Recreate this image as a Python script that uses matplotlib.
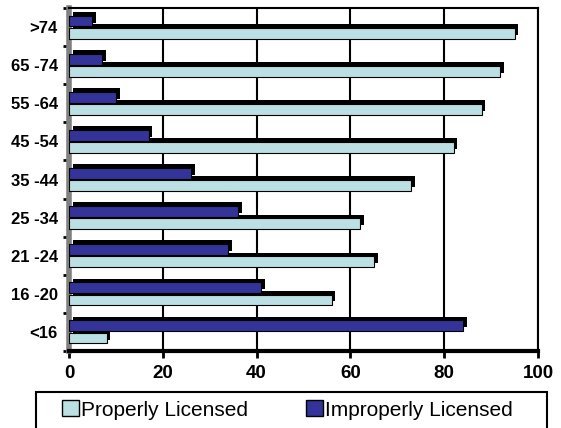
import numpy as np
import matplotlib.pyplot as plt
from matplotlib.patches import Patch, Rectangle

# ====== Data ======
categories = ["<16", "16 -20", "21 -24", "25 -34", "35 -44", "45 -54", "55 -64", "65 -74", ">74"]
properly = [8, 56, 65, 62, 73, 82, 88, 92, 95]
improperly = [84, 41, 34, 36, 26, 17, 10, 7, 5]
x_ticks = [0, 20, 40, 60, 80, 100]
# ==================

LIGHT = "#BBE0E3"
DARK = "#333399"
bar_h = 0.28
dx, dy = 0.8, 0.1   # fake 3D depth

plt.rcParams['font.family'] = ['Liberation Sans', 'DejaVu Sans']

fig = plt.figure(figsize=(5.61, 4.28), dpi=100)
ax = fig.add_axes([0.123, 0.180, 0.836, 0.801])

y = np.arange(len(categories))
y_prop = y - bar_h / 2 - 0.02
y_imp = y + bar_h / 2 + 0.02

# shadows (3D depth)
ax.barh(y_prop + dy, properly, height=bar_h, left=dx, color="black", zorder=3)
ax.barh(y_imp + dy, improperly, height=bar_h, left=dx, color="black", zorder=3)
# front faces
ax.barh(y_prop, properly, height=bar_h, color=LIGHT, edgecolor="black", lw=0.8, zorder=4)
ax.barh(y_imp, improperly, height=bar_h, color=DARK, edgecolor="black", lw=0.8, zorder=4)

ax.set_xlim(0, 100)
ax.set_ylim(-0.5, len(categories) - 0.5)
ax.set_xticks(x_ticks)
ax.set_xticklabels([str(t) for t in x_ticks], fontsize=13.5, fontweight="bold")
ax.set_yticks(y)
ax.set_yticklabels(categories, fontsize=12, fontweight="bold")
ax.tick_params(axis="y", length=0, pad=8)
ax.set_yticks(np.arange(len(categories) + 1) - 0.5, minor=True)
ax.tick_params(axis="y", which="minor", length=4, width=2, color="black")
ax.tick_params(axis="x", length=5, width=2, pad=5)

ax.grid(axis="x", color="black", lw=1.5, zorder=0)
for side in ["top", "right"]:
    ax.spines[side].set_linewidth(1.5)
ax.spines["bottom"].set_linewidth(3)
ax.spines["left"].set_linewidth(4)
ax.spines["left"].set_color("#808080")

# legend box (runs off the bottom edge like the original)
fig.patches.append(Rectangle((36 / 561, -0.05), 511 / 561, 1 - 392 / 428 + 0.05,
                             transform=fig.transFigure, fill=False, lw=1.5,
                             edgecolor="black"))
handles = [Patch(facecolor=LIGHT, edgecolor="black", label="Properly Licensed"),
           Patch(facecolor=DARK, edgecolor="black", label="Improperly Licensed")]
fig.legend(handles=handles, loc="center left", bbox_to_anchor=(62 / 561, 1 - 410 / 428),
           ncol=2, fontsize=15, frameon=False, borderpad=0, borderaxespad=0,
           handlelength=0.8, handleheight=0.8, handletextpad=0.1,
           columnspacing=2.8)

fig.savefig("out.png", dpi=100)
